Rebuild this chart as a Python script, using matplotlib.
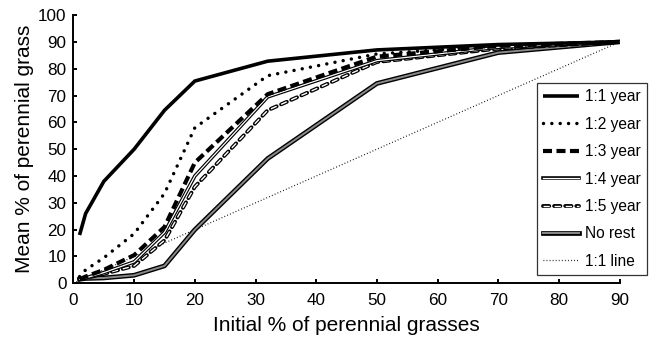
import matplotlib
matplotlib.use("Agg")
import matplotlib.pyplot as plt
import matplotlib.patheffects as pe

plt.rcParams['font.family'] = ['Liberation Sans', 'DejaVu Sans']
plt.rcParams['lines.scale_dashes'] = False

# initial % of perennial grasses (x)
x = [1, 2, 5, 10, 15, 20, 32, 50, 70, 90]

# mean % of perennial grass for each rest schedule
rest_1_1 = [18, 26, 38, 50, 64.5, 75.4, 82.8, 87, 89, 90]
rest_1_2 = [2.5, 5, 9.5, 18.5, 33.5, 58, 77.4, 85.5, 88.5, 90]
rest_1_3 = [1.5, 2.5, 5, 10.5, 21, 45, 70.5, 84.5, 88.5, 90]
rest_1_4 = [1.5, 2, 4, 8, 19, 40, 69.5, 83, 88, 90]
rest_1_5 = [1.5, 2, 3.5, 6.5, 16, 36, 64.5, 82.5, 87.5, 90]
no_rest = [1.5, 1.8, 2, 3, 6.5, 20, 46.5, 74.5, 86, 90]

# reference 1:1 line
line_x = [0, 90]
line_y = [0, 90]

fig = plt.figure(figsize=(6.56, 3.42), dpi=100)
ax = fig.add_axes([0.112, 0.1716, 0.8326, 0.7844])

ax.plot(line_x, line_y, color='black', lw=0.9, linestyle=(0, (0.6, 1.6)),
        label='1:1 line', zorder=1)

ax.plot(x, no_rest, color='#8a8a8a', lw=1.4, label='No rest', zorder=2,
        path_effects=[pe.Stroke(linewidth=3.4, foreground='black'), pe.Normal()])

ax.plot(x, rest_1_5, color='white', lw=1.0, linestyle=(0, (4.5, 3.5)),
        dash_capstyle='butt', label='1:5 year', zorder=3,
        path_effects=[pe.Stroke(linewidth=2.8, foreground='black', capstyle='round'),
                      pe.Normal()])

ax.plot(x, rest_1_4, color='white', lw=0.9, label='1:4 year', zorder=4,
        path_effects=[pe.Stroke(linewidth=2.6, foreground='black'), pe.Normal()])

ax.plot(x, rest_1_3, color='black', lw=3.0, linestyle=(0, (6.5, 3.2)),
        dash_capstyle='butt', label='1:3 year', zorder=5)

ax.plot(x, rest_1_2, color='black', lw=2.5, linestyle=(0, (0.01, 6.0)),
        dash_capstyle='round', label='1:2 year', zorder=6)

ax.plot(x, rest_1_1, color='black', lw=2.6, label='1:1 year', zorder=7,
        solid_capstyle='butt')

ax.set_xlim(0, 90)
ax.set_ylim(0, 100)
ax.set_xticks(range(0, 91, 10))
ax.set_yticks(range(0, 101, 10))
ax.spines['top'].set_visible(False)
ax.spines['right'].set_visible(False)
ax.spines['left'].set_linewidth(1.4)
ax.spines['bottom'].set_linewidth(1.4)
ax.tick_params(direction='in', length=3, width=1.4, labelsize=12.3)
ax.tick_params(axis='x', pad=7)
ax.tick_params(axis='y', pad=5)

ax.set_xlabel('Initial % of perennial grasses', fontsize=15, labelpad=6)
ax.set_ylabel('Mean % of perennial grass', fontsize=15, labelpad=3)

handles, labels = ax.get_legend_handles_labels()
order = ['1:1 year', '1:2 year', '1:3 year', '1:4 year', '1:5 year', 'No rest', '1:1 line']
hmap = dict(zip(labels, handles))
leg = ax.legend([hmap[k] for k in order], order, loc='upper left',
                bbox_to_anchor=(0.849, 0.7466), fontsize=11.2, frameon=True,
                fancybox=False, edgecolor='#333333', framealpha=1,
                handlelength=2.3, handletextpad=0.37, labelspacing=0.8,
                borderpad=0.4, borderaxespad=0)
leg.get_frame().set_linewidth(0.9)

fig.savefig('out.png', dpi=100)
